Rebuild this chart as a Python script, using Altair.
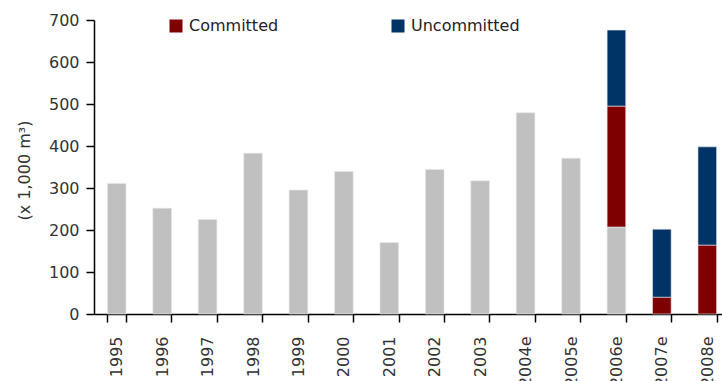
import altair as alt
import pandas as pd

years = ["1995", "1996", "1997", "1998", "1999", "2000", "2001", "2002",
         "2003", "2004e", "2005e", "2006e", "2007e", "2008e"]
existing = [311, 252, 225, 383, 295, 339, 170, 344, 317, 479, 371, 207, 0, 0]
committed = [0, 0, 0, 0, 0, 0, 0, 0, 0, 0, 0, 288, 40, 164]
uncommitted = [0, 0, 0, 0, 0, 0, 0, 0, 0, 0, 0, 181, 162, 234]

series_names = ["Existing", "Committed", "Uncommitted"]
series_colors = ["#c0c0c0", "#7f0000", "#003366"]

rows = []
for i, y in enumerate(years):
    for k, (name, vals) in enumerate(zip(series_names, [existing, committed, uncommitted])):
        if vals[i] > 0:
            rows.append({"year": y, "series": name, "value": vals[i], "order": k})
df = pd.DataFrame(rows)

FONT = "DejaVu Sans"

chart = alt.Chart(df).mark_bar(stroke="#e8e8e8", strokeWidth=0.6).encode(
    x=alt.X("year:N", sort=years, title=None,
            scale=alt.Scale(paddingInner=0.59, paddingOuter=0.295, range=[0, 636]),
            axis=alt.Axis(labelAngle=270, labelAlign="right", labelBaseline="middle",
                          tickBand="extent", tickSize=8, labelPadding=14,
                          domainColor="#000", tickColor="#000", domainWidth=1.5,
                          tickWidth=1.5, labelFontSize=16, labelColor="#333",
                          labelFont=FONT)),
    y=alt.Y("value:Q", stack="zero",
            scale=alt.Scale(domain=[0, 700], nice=False),
            axis=alt.Axis(values=[0, 100, 200, 300, 400, 500, 600, 700], grid=False,
                          tickSize=8, labelPadding=7, domainColor="#000",
                          tickColor="#000", domainWidth=1.5, tickWidth=1.5,
                          labelFontSize=16, labelColor="#333", labelFont=FONT,
                          title="(x 1,000 m³)", titleFont=FONT, titleFontSize=16,
                          titleFontWeight="normal", titleColor="#333",
                          titleAngle=270, titleAlign="center", titleBaseline="middle",
                          titleX=-70, titleY=150)),
    color=alt.Color("series:N",
                    scale=alt.Scale(domain=series_names, range=series_colors),
                    legend=alt.Legend(values=["Committed", "Uncommitted"], title=None,
                                      orient="none", legendX=74, legendY=-2,
                                      direction="horizontal", symbolType="square",
                                      symbolSize=169, symbolStrokeWidth=0,
                                      labelFontSize=16, labelFont=FONT,
                                      labelColor="#222", labelOffset=5,
                                      columnPadding=111)),
    order=alt.Order("order:Q", sort="ascending"),
).properties(
    width=628, height=294,
    autosize=alt.AutoSizeParams(type="none"),
    padding={"left": 94, "top": 20, "right": 0, "bottom": 67},
).configure_view(stroke=None)

chart.save("out.html", embed_options={"renderer": "svg", "actions": False})
